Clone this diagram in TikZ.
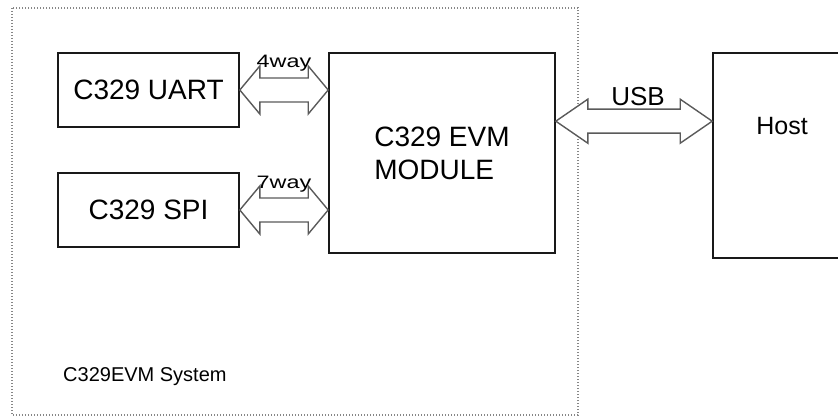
\documentclass[tikz,border=0pt]{standalone}
\usepackage{fontspec}
\setmainfont{Liberation Sans}
\usetikzlibrary{calc}
\definecolor{evmline}{RGB}{25,25,25}
\definecolor{evmarrow}{RGB}{90,90,90}
\definecolor{evmdots}{RGB}{135,135,135}

% #1 left tip, #2 right tip, #3 head length, #4 head half width, #5 shaft half width
\newcommand{\busarrow}[5]{%
  \draw[bus] (#1) -- ++(#3,-#4) -- ++(0,#4-#5) -- ($(#2)+(-#3,-#5)$)
    -- ++(0,#5-#4) -- (#2) -- ++(-#3,#4) -- ++(0,#5-#4)
    -- ($(#1)+(#3,#5)$) -- ++(0,#4-#5) -- cycle;}

\begin{document}
\begin{tikzpicture}[x=1pt, y=-1pt,
    block/.style={draw=evmline, line width=1.6pt, inner sep=0pt,
      font=\fontsize{28}{33}\selectfont},
    bus/.style={draw=evmarrow, line width=1.4pt, fill=white, line join=miter},
    buslabel/.style={anchor=base, inner sep=0pt}]
    \useasboundingbox (0,0) rectangle (838,417);
    \clip (0,0) rectangle (838,417);
    \draw[evmdots, dash pattern=on 1.4pt off 1.6pt, line width=1.4pt] (12,8) rectangle (578,415);
    \node[block, minimum width=181pt, minimum height=74pt] (uart) at (148.5,90) {C329 UART};
    \node[block, minimum width=181pt, minimum height=74pt] (spi) at (148.5,210) {C329 SPI};
    \node[block, minimum width=226pt, minimum height=200pt, align=left] (module) at (442,153)
      {C329 EVM\\MODULE};
    \node[block, minimum width=138pt, minimum height=205pt,
      label={[anchor=center, yshift=-74pt, font=\fontsize{25}{30}\selectfont]north:Host}]
      (host) at (782,155.5) {};
    \coordinate (usbL) at ($(module.north east)+(0,69)$);
    \busarrow{uart.east}{uart.east -| module.west}{20}{24}{12}
    \busarrow{spi.east}{spi.east -| module.west}{20}{24}{12}
    \busarrow{usbL}{usbL -| host.west}{32}{22}{12}
    \node[buslabel, font=\fontsize{18}{20}\selectfont]
      at ($($(uart.east)!0.5!(uart.east -| module.west)$)+(0,-22)$) {\scalebox{1.3}[1]{4way}};
    \node[buslabel, font=\fontsize{18}{20}\selectfont]
      at ($($(spi.east)!0.5!(spi.east -| module.west)$)+(0,-22)$) {\scalebox{1.3}[1]{7way}};
    \node[buslabel, font=\fontsize{26}{30}\selectfont]
      at ($($(usbL)!0.5!(usbL -| host.west)$)+(4,-16)$) {USB};
    \node[anchor=base west, inner sep=0pt, font=\fontsize{20}{24}\selectfont] (syslabel)
      at (63,381) {C329EVM System};
  \end{tikzpicture}
\end{document}
